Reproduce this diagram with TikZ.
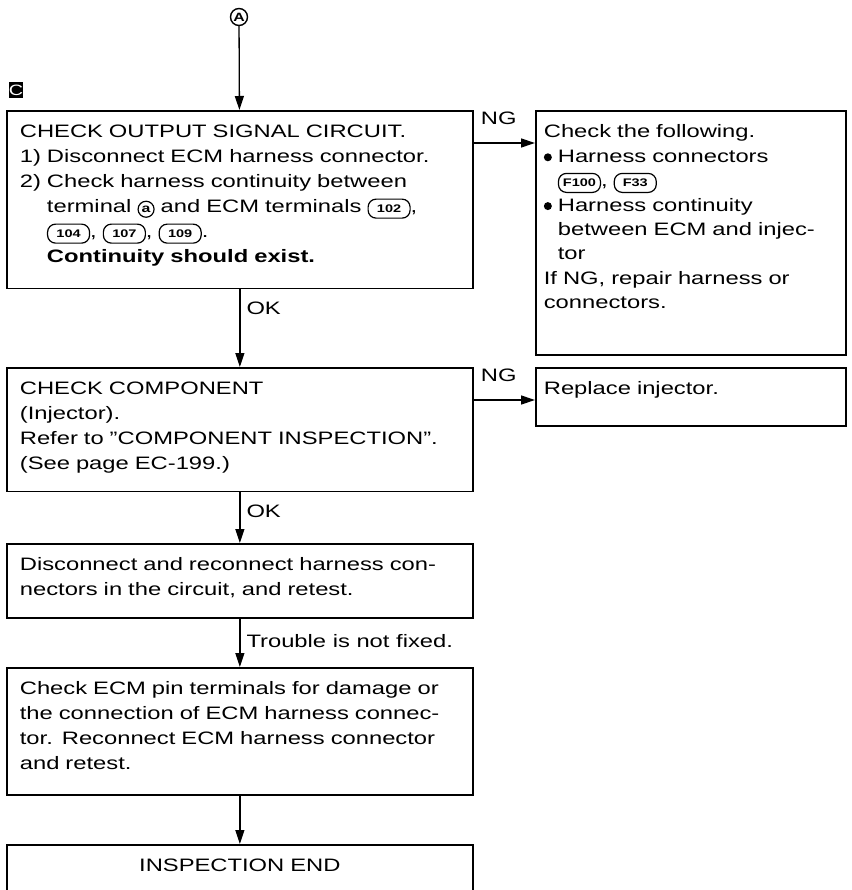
\documentclass[tikz,border=0pt]{standalone}
\usepackage{fontspec}
\setmainfont{Liberation Sans}[FakeStretch=1.32]
\usetikzlibrary{arrows.meta}

\newcommand\harn[1]{\tikz[baseline=(h.base)]\node[draw,line width=1.2pt,rounded corners=8pt,minimum width=42pt,minimum height=19pt,inner sep=1pt,text width={},text depth={},align=center,anchor=base,font=\fontsize{11}{11}\selectfont\bfseries] (h) {#1};}
\newcommand\termc[1]{\tikz[baseline=(t.base)]\node[circle,draw,line width=1.2pt,minimum size=16pt,inner sep=0pt,text width={},text depth={},align=center,anchor=base,font=\fontsize{12}{12}\selectfont\bfseries] (t) {#1};}
\newcommand\bul{\tikz[baseline=-5pt]\fill (0,0) circle[radius=4pt];}
\newcommand\downto[1]{\rule[-#1]{0pt}{#1}}

\begin{document}
\begin{tikzpicture}[>={Triangle[length=14pt,width=9pt]},x=1pt,y=-1pt,
  stepbox/.style={draw,line width=1.7pt,anchor=north west,align=left,inner xsep=13pt,inner ysep=14pt,text width=440pt,font=\fontsize{18}{25}\selectfont},
  sidebox/.style={stepbox,inner xsep=8pt,text width=294pt},
  lbl/.style={inner sep=2pt,font=\fontsize{18}{25}\selectfont},
  arr/.style={->,line width=1.3pt}]
\useasboundingbox (0,0) rectangle (851,890);
\node[circle,draw,line width=1.4pt,minimum size=17pt,inner sep=0pt,font=\fontsize{12}{12}\selectfont\bfseries] (A) at (239,17) {A};
\node[fill=black,text=white,inner sep=0pt,minimum width=14pt,minimum height=16pt,font=\fontsize{15}{15}\selectfont] (tagC) at (16,90) {C};
% main column
\node[stepbox] (out) at (6,110) {CHECK OUTPUT SIGNAL CIRCUIT.\\
1) Disconnect ECM harness connector.\\
2) Check harness continuity between\\
\phantom{2) }terminal \termc{a} and ECM terminals \harn{102},\\
\phantom{2) }\harn{104}, \harn{107}, \harn{109}.\\
\phantom{2) }\textbf{Continuity should exist.}\downto{12pt}};
\node[stepbox] (comp) at (6,367) {CHECK COMPONENT\\
(Injector).\\
Refer to ''COMPONENT INSPECTION''.\\
(See page EC-199.)\downto{8pt}};
\node[stepbox] (recon) at (6,543) {Disconnect and reconnect harness con-\\
nectors in the circuit, and retest.\downto{8pt}};
\node[stepbox] (pins) at (6,667) {Check ECM pin terminals for damage or\\
the connection of ECM harness connec-\\
tor. Reconnect ECM harness connector\\
and retest.\downto{11pt}};
\node[stepbox,align=center] (fin) at (6,844) {INSPECTION END\downto{30pt}};
% NG side
\node[sidebox,font=\fontsize{18}{24.4}\selectfont] (harn) at (535,110) {Check the following.\\
\bul\ Harness connectors\\
\phantom{\bul\ }\harn{F100}, \harn{F33}\\
\bul\ Harness continuity\\
\phantom{\bul\ }between ECM and injec-\\
\phantom{\bul\ }tor\\
If NG, repair harness or\\
connectors.\downto{32pt}};
\node[sidebox] (repl) at (535,367) {Replace injector.\downto{17pt}};
\node[lbl,anchor=north west] (ng1) at ([xshift=5pt]out.north east) {NG};
\node[lbl,anchor=north west] (ng2) at ([xshift=5pt]comp.north east) {NG};
% connectors
\draw[arr] (A) -- (out);
\draw[arr] (out) -- (comp) node[lbl,pos=.25,anchor=west,xshift=4pt] {OK};
\draw[arr] (comp) -- (recon) node[lbl,pos=.37,anchor=west,xshift=4pt] {OK};
\draw[arr] (recon) -- (pins) node[lbl,pos=.46,anchor=west,xshift=4pt] {Trouble is not fixed.};
\draw[arr] (pins) -- (fin);
\draw[arr] ([yshift=-33pt]out.north east) -- ([yshift=-33pt]harn.north west);
\draw[arr] ([yshift=-33pt]comp.north east) -- ([yshift=-33pt]repl.north west);
\end{tikzpicture}
\end{document}
